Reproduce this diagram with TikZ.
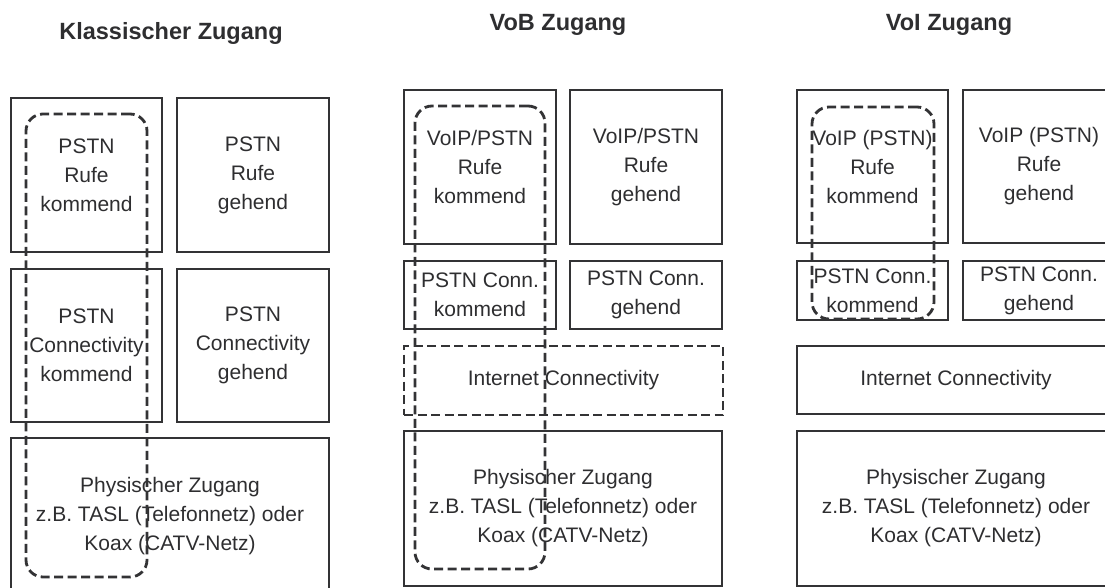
\documentclass[tikz,border=0pt]{standalone}
\usepackage{fontspec}
\setmainfont{Liberation Sans}
\usetikzlibrary{positioning}
\definecolor{liniengrau}{HTML}{333335}
\definecolor{textgrau}{HTML}{2E2E30}
\tikzset{
  groesse/.style 2 args={minimum width=#1pt, minimum height=#2pt},
  feld/.style={draw=liniengrau, line width=2pt, text=textgrau, align=center, inner sep=0pt, font=\fontsize{21}{29}\selectfont},
  strichfeld/.style={feld, line width=2.8pt, dash pattern=on 9pt off 4.5pt},
  umriss/.style={draw=liniengrau, line width=2.8pt, dash pattern=on 9pt off 4.5pt, rounded corners=17pt, inner sep=0pt},
  titel/.style={text=textgrau, font=\fontsize{23.5}{28}\selectfont\bfseries, anchor=base, inner sep=0pt}
}

\begin{document}
\begin{tikzpicture}[x=1pt, y=-1pt]
    \useasboundingbox (0,0) rectangle (1105,588);

    % Klassischer Zugang
    \begin{scope}
        \node[titel] (t1) at (171,40) {Klassischer Zugang};
        \node[feld, groesse={151}{154}] (k1) at (86.5,175) {PSTN\\Rufe\\kommend};
        \node[feld, groesse={152}{154}] (k2) at (253,175) {PSTN\\Rufe\\gehend};
        \node[feld, groesse={151}{153}] (k3) at (86.5,345.5) {PSTN\\Connectivity\\kommend};
        \node[feld, groesse={152}{153}] (k4) at (253,345.5) {PSTN\\Connectivity\\gehend};
        \node[feld, groesse={318}{156}] (k5) at (170,516) {Physischer Zugang\\z.B. TASL (Telefonnetz) oder\\Koax (CATV-Netz)};
        \node[umriss, groesse={121}{463}] (k6) at (86.5,345.5) {};
    \end{scope}

    % VoB Zugang
    \begin{scope}
        \node[titel] (t2) at (558,31) {VoB Zugang};
        \node[feld, groesse={152}{154}] (b1) at (480,167) {VoIP/PSTN\\Rufe\\kommend};
        \node[feld, groesse={152}{154}] (b2) at (646,167) {VoIP/PSTN\\Rufe\\gehend};
        \node[feld, groesse={152}{68}] (b3) at (480,295) {PSTN Conn.\\kommend};
        \node[feld, groesse={152}{68}] (b4) at (646,295) {PSTN Conn.\\gehend};
        \node[strichfeld, groesse={319}{69}] (b5) at (563.5,380.5) {Internet Connectivity};
        \node[feld, groesse={318}{155}] (b6) at (563,508.5) {Physischer Zugang\\z.B. TASL (Telefonnetz) oder\\Koax (CATV-Netz)};
        \node[umriss, groesse={130}{463}] (b7) at (480,337.5) {};
    \end{scope}

    % VoI Zugang
    \begin{scope}
        \node[titel] (t3) at (949,31) {VoI Zugang};
        \node[feld, groesse={151}{153}] (c1) at (872.5,166.5) {VoIP (PSTN)\\Rufe\\kommend};
        \node[feld, groesse={152}{153}] (c2) at (1039,166.5) {VoIP (PSTN)\\Rufe\\gehend};
        \node[feld, groesse={151}{59}] (c3) at (872.5,290.5) {PSTN Conn.\\kommend};
        \node[feld, groesse={152}{59}] (c4) at (1039,290.5) {PSTN Conn.\\gehend};
        \node[feld, groesse={318}{68}] (c5) at (956,380) {Internet Connectivity};
        \node[feld, groesse={318}{155}] (c6) at (956,508.5) {Physischer Zugang\\z.B. TASL (Telefonnetz) oder\\Koax (CATV-Netz)};
        \node[umriss, groesse={122}{212}] (c7) at (873,213) {};
    \end{scope}
\end{tikzpicture}
\end{document}
